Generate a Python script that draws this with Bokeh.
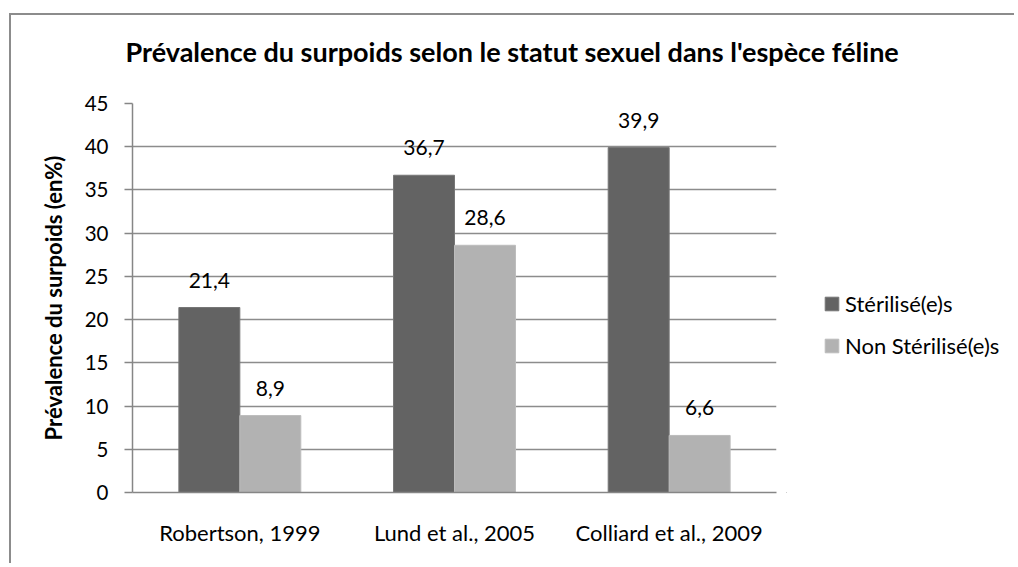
from bokeh.plotting import figure
from bokeh.layouts import row, column
from bokeh.models import (ColumnDataSource, FactorRange, Range1d, Legend, LegendItem,
                          LabelSet, FixedTicker)
from bokeh.core.properties import value
from bokeh.transform import dodge
from bokeh.embed import file_html
from bokeh.resources import INLINE

categories = ["Robertson, 1999", "Lund et al., 2005", "Colliard et al., 2009"]
sterilises = [21.4, 36.7, 39.9]
non_sterilises = [8.9, 28.6, 6.6]
series_names = ["Stérilisé(e)s", "Non Stérilisé(e)s"]
y_ticks = [0, 5, 10, 15, 20, 25, 30, 35, 40, 45]
title_text = "Prévalence du surpoids selon le statut sexuel dans l'espèce féline"

FONT = "Lato"
W, HT, HP = 1005, 64, 486
W1 = 777
W2 = W - W1
TOP, BOTTOM = 26, 71
DARK, DARK_EDGE = "#636363", "#767676"
LIGHT, LIGHT_EDGE = "#b2b2b2", "#bcbcbc"

src = ColumnDataSource(dict(
    cat=categories,
    s=sterilises,
    n=non_sterilises,
    s_lbl=[f"{v:.1f}".replace(".", ",") for v in sterilises],
    n_lbl=[f"{v:.1f}".replace(".", ",") for v in non_sterilises],
))

# ---- title strip
t = figure(width=W, height=HT, output_backend="svg", toolbar_location=None,
           x_range=Range1d(0, 1), y_range=Range1d(0, 1),
           x_axis_location=None, y_axis_location=None,
           min_border_left=123, min_border_right=10,
           min_border_top=59, min_border_bottom=0)
t.grid.visible = False
t.outline_line_color = None
t.background_fill_alpha = 0
t.border_fill_alpha = 0
t.title.text = title_text
t.title.align = "left"
t.title.offset = -7
t.title.standoff = 10
t.title.text_font = FONT
t.title.text_font_size = "27px"
t.title.text_font_style = "bold"
t.title.text_color = "black"

# ---- main chart
p = figure(x_range=FactorRange(*categories, range_padding=0.0),
           y_range=Range1d(0, 45), title=None,
           width=W1, height=HP, output_backend="svg", toolbar_location=None,
           min_border_left=123, min_border_right=10,
           min_border_top=TOP, min_border_bottom=BOTTOM)
p.x_range.range_padding = 0
p.background_fill_color = "white"
p.border_fill_alpha = 0
p.outline_line_color = None

bw = 0.284
p.vbar(x=dodge("cat", -bw / 2, range=p.x_range), top="s", width=bw, source=src,
       fill_color=DARK, line_color=DARK_EDGE, line_width=1)
p.vbar(x=dodge("cat", bw / 2, range=p.x_range), top="n", width=bw, source=src,
       fill_color=LIGHT, line_color=LIGHT_EDGE, line_width=1)

for col, ycol, off in (("s_lbl", "s", -bw / 2), ("n_lbl", "n", bw / 2)):
    p.add_layout(LabelSet(x=dodge("cat", off, range=p.x_range), y=ycol, text=col,
                          source=src, y_offset=20, text_align="center",
                          text_baseline="bottom", text_font=value(FONT),
                          text_font_size="21px", text_color="black"))

p.yaxis.ticker = FixedTicker(ticks=y_ticks)
p.yaxis.axis_label = "Prévalence du surpoids (en%)"
p.yaxis.axis_label_text_font = FONT
p.yaxis.axis_label_text_font_size = "22px"
p.yaxis.axis_label_text_font_style = "bold"
p.yaxis.axis_label_text_color = "black"
p.yaxis.axis_label_standoff = 15
p.yaxis.major_label_text_font = FONT
p.yaxis.major_label_text_font_size = "20.5px"
p.yaxis.major_label_text_color = "black"
p.yaxis.major_label_standoff = 16
p.yaxis.major_tick_out = 8
p.yaxis.major_tick_in = 0
p.yaxis.minor_tick_line_color = None
p.yaxis.axis_line_color = "#868686"
p.yaxis.axis_line_width = 1.5
p.yaxis.major_tick_line_color = "#868686"
p.yaxis.major_tick_line_width = 1.5

p.xaxis.major_label_text_font = FONT
p.xaxis.major_label_text_font_size = "22px"
p.xaxis.major_label_text_color = "black"
p.xaxis.major_label_standoff = 20
p.xaxis.major_tick_line_color = None
p.xaxis.minor_tick_line_color = None
p.xaxis.axis_line_color = "#868686"
p.xaxis.axis_line_width = 1.5

p.xgrid.grid_line_color = None
p.ygrid.grid_line_color = "#8c8c8c"
p.ygrid.grid_line_width = 1.5

# ---- legend panel
p2 = figure(x_range=Range1d(0, 1), y_range=Range1d(0, 1), title=None,
            width=W2, height=HP, output_backend="svg", toolbar_location=None,
            x_axis_location=None, y_axis_location=None,
            min_border_left=0, min_border_right=0,
            min_border_top=TOP, min_border_bottom=BOTTOM)
p2.grid.visible = False
p2.outline_line_color = None
p2.background_fill_alpha = 0
p2.border_fill_alpha = 0
# legend key proxies, kept outside the visible ranges
l1 = p2.vbar(x=[-5], top=[-5], width=0.1, fill_color=DARK, line_color=DARK_EDGE)
l2 = p2.vbar(x=[-5], top=[-5], width=0.1, fill_color=LIGHT, line_color=LIGHT_EDGE)

legend = Legend(items=[LegendItem(label=series_names[0], renderers=[l1]),
                       LegendItem(label=series_names[1], renderers=[l2])],
                location=(37, 133), orientation="vertical",
                glyph_width=17, glyph_height=17, label_standoff=5,
                spacing=15, padding=0, margin=0,
                label_text_font=FONT, label_text_font_size="22px",
                label_text_color="black",
                border_line_color=None, background_fill_alpha=0)
p2.add_layout(legend, "center")

layout = column(t, row(p, p2), margin=(13, 0, 0, 9),
                styles={"box-shadow": "inset 2px 2px 0 0 #8c8c8c"})

open("out.html", "w").write(file_html(layout, INLINE))
